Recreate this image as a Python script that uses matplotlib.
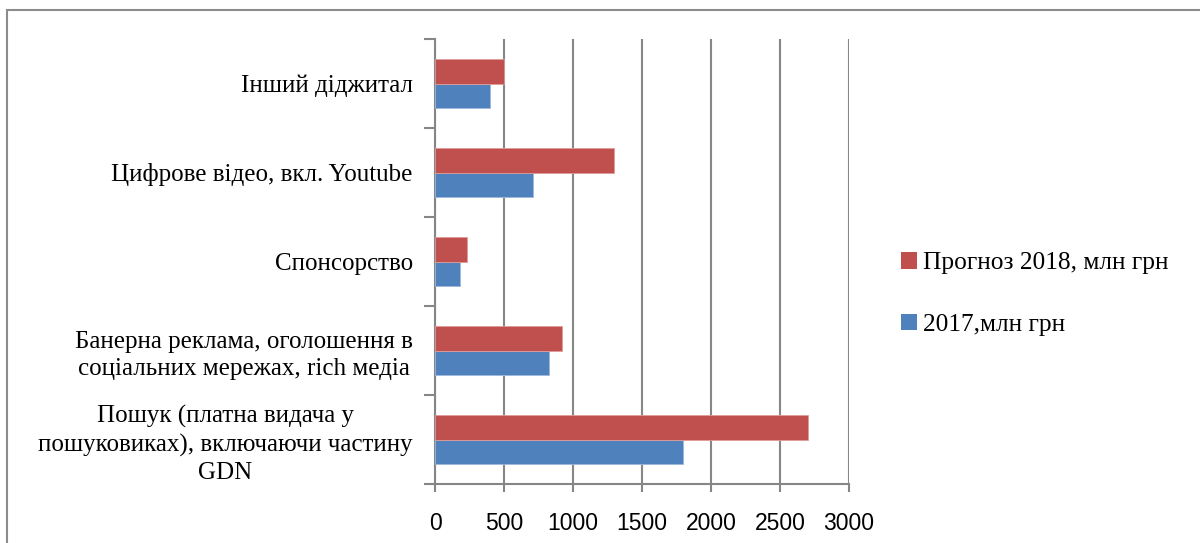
import matplotlib
matplotlib.use("Agg")
import matplotlib.pyplot as plt
import numpy as np
from matplotlib.patches import Rectangle, Patch

categories = [
    "Пошук (платна видача у\nпошуковиках), включаючи частину\nGDN",
    "Банерна реклама, оголошення в\nсоціальних мережах, rich медіа",
    "Спонсорство",
    "Цифрове відео, вкл. Youtube",
    "Інший діджитал",
]
values_2017 = [1800, 825, 180, 710, 400]
values_2018 = [2700, 920, 230, 1300, 500]
series_names = ["Прогноз 2018, млн грн", "2017,млн грн"]
xticks = [0, 500, 1000, 1500, 2000, 2500, 3000]

RED = "#C0504D"
BLUE = "#4F81BD"
GRID = "#868686"

fig = plt.figure(figsize=(12, 5.43), dpi=100)
ax = fig.add_axes([435/1200, 1-484/543, (849-435)/1200, (484-39)/543])

y = np.arange(len(categories))
h = 0.28
ax.barh(y - h/2, values_2017, height=h, color=BLUE, edgecolor="#9DB9DE", linewidth=0.6, zorder=3)
ax.barh(y + h/2, values_2018, height=h, color=RED, edgecolor="#DE9C9A", linewidth=0.6, zorder=3)

ax.set_xlim(0, 3000)
ax.set_ylim(-0.5, len(categories) - 0.5)
ax.set_xticks(xticks)
ax.set_xticklabels([str(v) for v in xticks], fontfamily="Liberation Sans", fontsize=16.5)
ax.xaxis.grid(True, color=GRID, linewidth=1.5, zorder=0)

ax.set_yticks(y)
ax.set_yticklabels(categories, fontfamily="Liberation Serif", fontsize=18, linespacing=1.3)
for t in ax.get_yticklabels():
    t.set_multialignment("center")
ax.set_yticks(np.arange(-0.5, len(categories)), minor=True)
ax.tick_params(axis="y", which="major", length=0, pad=16)
ax.tick_params(axis="y", which="minor", length=8, width=1.5, color=GRID, direction="out")
ax.tick_params(axis="x", which="major", length=6, width=1.5, color=GRID, direction="out", pad=14)

for s in ["top", "right"]:
    ax.spines[s].set_visible(False)
for s in ["left", "bottom"]:
    ax.spines[s].set_color(GRID)
    ax.spines[s].set_linewidth(1.5)

handles = [Patch(facecolor=RED), Patch(facecolor=BLUE)]
fig.legend(handles, series_names, loc="upper left", bbox_to_anchor=(891/1200, 1-242/543),
           frameon=False, prop={"family": "Liberation Serif", "size": 18.3},
           handlelength=0.62, handleheight=0.62, handletextpad=0.22, labelspacing=1.55,
           borderaxespad=0)

fig.patches.append(Rectangle((7/1200, -0.1), 1.2, 1-10/543 + 0.1, transform=fig.transFigure,
                             fill=False, edgecolor="#8C8C8C", linewidth=1.5))

fig.savefig("out.png", dpi=100)
